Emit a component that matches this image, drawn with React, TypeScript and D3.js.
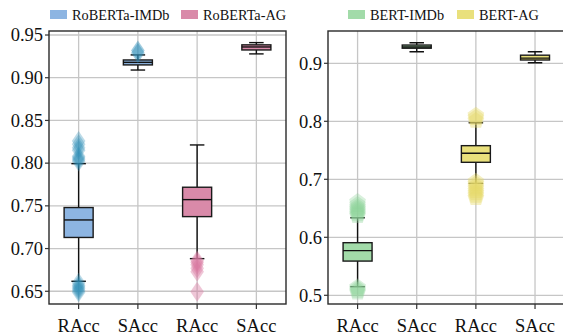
import React from 'react';
import * as d3 from 'd3';

// Box stats are [whiskerLow, q1, median, q3, whiskerHigh].
const categories = ['RAcc', 'SAcc', 'RAcc', 'SAcc'];
const leftTicks = [0.65, 0.7, 0.75, 0.8, 0.85, 0.9, 0.95];
const rightTicks = [0.5, 0.6, 0.7, 0.8, 0.9];

const robertaImdbRAcc = [0.6617, 0.713, 0.7335, 0.748, 0.7994];
const robertaImdbRAccOut = [0.649, 0.651, 0.653, 0.655, 0.657, 0.66, 0.802, 0.804, 0.806, 0.808, 0.815, 0.818, 0.822, 0.826];
const robertaImdbSAcc = [0.909, 0.915, 0.918, 0.9208, 0.9267];
const robertaImdbSAccOut = [0.929, 0.932];
const robertaAgRAcc = [0.6882, 0.7374, 0.7573, 0.7718, 0.8213];
const robertaAgRAccOut = [0.6495, 0.673, 0.677, 0.681, 0.684, 0.686];
const robertaAgSAcc = [0.9279, 0.9325, 0.936, 0.9385, 0.9411];

const bertImdbRAcc = [0.5148, 0.559, 0.577, 0.5907, 0.6338];
const bertImdbRAccOut = [0.505, 0.508, 0.511, 0.514, 0.637, 0.64, 0.643, 0.646, 0.649, 0.652, 0.656, 0.661];
const bertImdbSAcc = [0.92, 0.926, 0.928, 0.9315, 0.9355];
const bertAgRAcc = [0.693, 0.7293, 0.745, 0.758, 0.7976];
const bertAgRAccOut = [0.668, 0.672, 0.676, 0.68, 0.684, 0.688, 0.692, 0.696, 0.801, 0.806, 0.81];
const bertAgSAcc = [0.901, 0.9057, 0.909, 0.914, 0.92];

const FONT = 'Liberation Serif, Tinos, Times New Roman, Times, serif';

type Box = { stats: number[]; out: number[]; fill: string; outColor: string; outOpacity: number };

function pentagon(r: number) {
  const pts = d3.range(5).map((i) => {
    const a = -Math.PI / 2 + (i * 2 * Math.PI) / 5;
    return [r * Math.cos(a), r * Math.sin(a)];
  });
  return 'M' + pts.map((p) => p.join(',')).join('L') + 'Z';
}
const diamond = 'M0,-10L6.8,0L0,10L-6.8,0Z';

function Panel({ x0, x1, y0, y1, domain, ticks, fmt, boxes, marker, legend }: any) {
  const x = d3.scaleBand().domain(d3.range(categories.length).map(String)).range([x0, x1]);
  const y = d3.scaleLinear().domain(domain).range([y1, y0]);
  const bw = x.bandwidth();
  const cx = (i: number) => (x(String(i)) as number) + bw / 2;
  const boxW = bw * 0.49;
  const capW = boxW / 2;
  const path = marker === 'd' ? diamond : pentagon(8.8);
  return (
    <g>
      <defs>
        <clipPath id={`clip${x0}`}>
          <rect x={x0} y={y0} width={x1 - x0} height={y1 - y0} />
        </clipPath>
      </defs>
      {ticks.map((t: number) => (
        <line key={'gy' + t} x1={x0} x2={x1} y1={y(t)} y2={y(t)} stroke="#c6c6c6" strokeWidth={1.3} />
      ))}
      {categories.map((_, i) => (
        <line key={'gx' + i} x1={cx(i)} x2={cx(i)} y1={y0} y2={y1} stroke="#c6c6c6" strokeWidth={1.3} />
      ))}
      <g clipPath={`url(#clip${x0})`}>
        {boxes.map((b: Box, i: number) => {
          const [lo, q1, med, q3, hi] = b.stats;
          const c = cx(i);
          return (
            <g key={'b' + i}>
              <line x1={c} x2={c} y1={y(hi)} y2={y(q3)} stroke="#111" strokeWidth={1.4} />
              <line x1={c} x2={c} y1={y(q1)} y2={y(lo)} stroke="#111" strokeWidth={1.4} />
              <line x1={c - capW / 2} x2={c + capW / 2} y1={y(hi)} y2={y(hi)} stroke="#111" strokeWidth={1.4} />
              <line x1={c - capW / 2} x2={c + capW / 2} y1={y(lo)} y2={y(lo)} stroke="#111" strokeWidth={1.4} />
              <rect x={c - boxW / 2} y={y(q3)} width={boxW} height={y(q1) - y(q3)} fill={b.fill} stroke="#1a1a1a" strokeWidth={1.4} />
              <line x1={c - boxW / 2} x2={c + boxW / 2} y1={y(med)} y2={y(med)} stroke="#111" strokeWidth={1.4} />
              {b.out.map((v, k) => (
                <path key={k} d={path} transform={`translate(${c},${y(v)})`} fill={b.outColor} fillOpacity={b.outOpacity} stroke="none" />
              ))}
            </g>
          );
        })}
      </g>
      <rect x={x0} y={y0} width={x1 - x0} height={y1 - y0} fill="none" stroke="#2a2a2a" strokeWidth={1.4} />
      {ticks.map((t: number) => (
        <g key={'ty' + t}>
          <line x1={x0 - 4} x2={x0} y1={y(t)} y2={y(t)} stroke="#333" strokeWidth={1.2} />
          <text x={x0 - 6} y={y(t)} dy="0.34em" textAnchor="end" fontSize={18.5} fontFamily={FONT} fill="#111">
            {fmt(t)}
          </text>
        </g>
      ))}
      {categories.map((c, i) => (
        <g key={'tx' + i}>
          <line x1={cx(i)} x2={cx(i)} y1={y1} y2={y1 + 5} stroke="#333" strokeWidth={1.2} />
          <text x={cx(i)} y={y1 + 28} textAnchor="middle" fontSize={18.5} fontFamily={FONT} fill="#111">
            {c}
          </text>
        </g>
      ))}
      {legend.map((l: any, i: number) => (
        <g key={'lg' + i}>
          <rect x={l.x} y={10} width={17} height={9} fill={l.color} />
          <text x={l.x + 22} y={19.5} fontSize={14.3} fontFamily={FONT} fill="#111">
            {l.label}
          </text>
        </g>
      ))}
    </g>
  );
}

export default function App() {
  const blue = '#8db5e2';
  const pink = '#d98aa9';
  const green = '#a2dba9';
  const yellow = '#e9e07c';
  const leftBoxes: Box[] = [
    { stats: robertaImdbRAcc, out: robertaImdbRAccOut, fill: blue, outColor: '#2f8fb8', outOpacity: 0.32 },
    { stats: robertaImdbSAcc, out: robertaImdbSAccOut, fill: blue, outColor: '#2f8fb8', outOpacity: 0.45 },
    { stats: robertaAgRAcc, out: robertaAgRAccOut, fill: pink, outColor: '#d9789f', outOpacity: 0.42 },
    { stats: robertaAgSAcc, out: [], fill: pink, outColor: '#d9789f', outOpacity: 0.4 },
  ];
  const rightBoxes: Box[] = [
    { stats: bertImdbRAcc, out: bertImdbRAccOut, fill: green, outColor: '#8fd49c', outOpacity: 0.35 },
    { stats: bertImdbSAcc, out: [], fill: green, outColor: '#8fd49c', outOpacity: 0.35 },
    { stats: bertAgRAcc, out: bertAgRAccOut, fill: yellow, outColor: '#e6da6a', outOpacity: 0.4 },
    { stats: bertAgSAcc, out: [], fill: yellow, outColor: '#e6da6a', outOpacity: 0.4 },
  ];
  return (
    <svg width={563} height={335} style={{ position: 'absolute', left: 0, top: 0, background: '#fff' }}>
      <Panel
        x0={49}
        x1={286}
        y0={31}
        y1={304}
        domain={[0.6351, 0.9547]}
        ticks={leftTicks}
        fmt={d3.format('.2f')}
        boxes={leftBoxes}
        marker="d"
        legend={[
          { x: 50, label: 'RoBERTa-IMDb', color: blue },
          { x: 181, label: 'RoBERTa-AG', color: pink },
        ]}
      />
      <Panel
        x0={328}
        x1={564.6}
        y0={31}
        y1={304}
        domain={[0.485, 0.9557]}
        ticks={rightTicks}
        fmt={d3.format('.1f')}
        boxes={rightBoxes}
        marker="p"
        legend={[
          { x: 348, label: 'BERT-IMDb', color: green },
          { x: 457, label: 'BERT-AG', color: yellow },
        ]}
      />
    </svg>
  );
}
